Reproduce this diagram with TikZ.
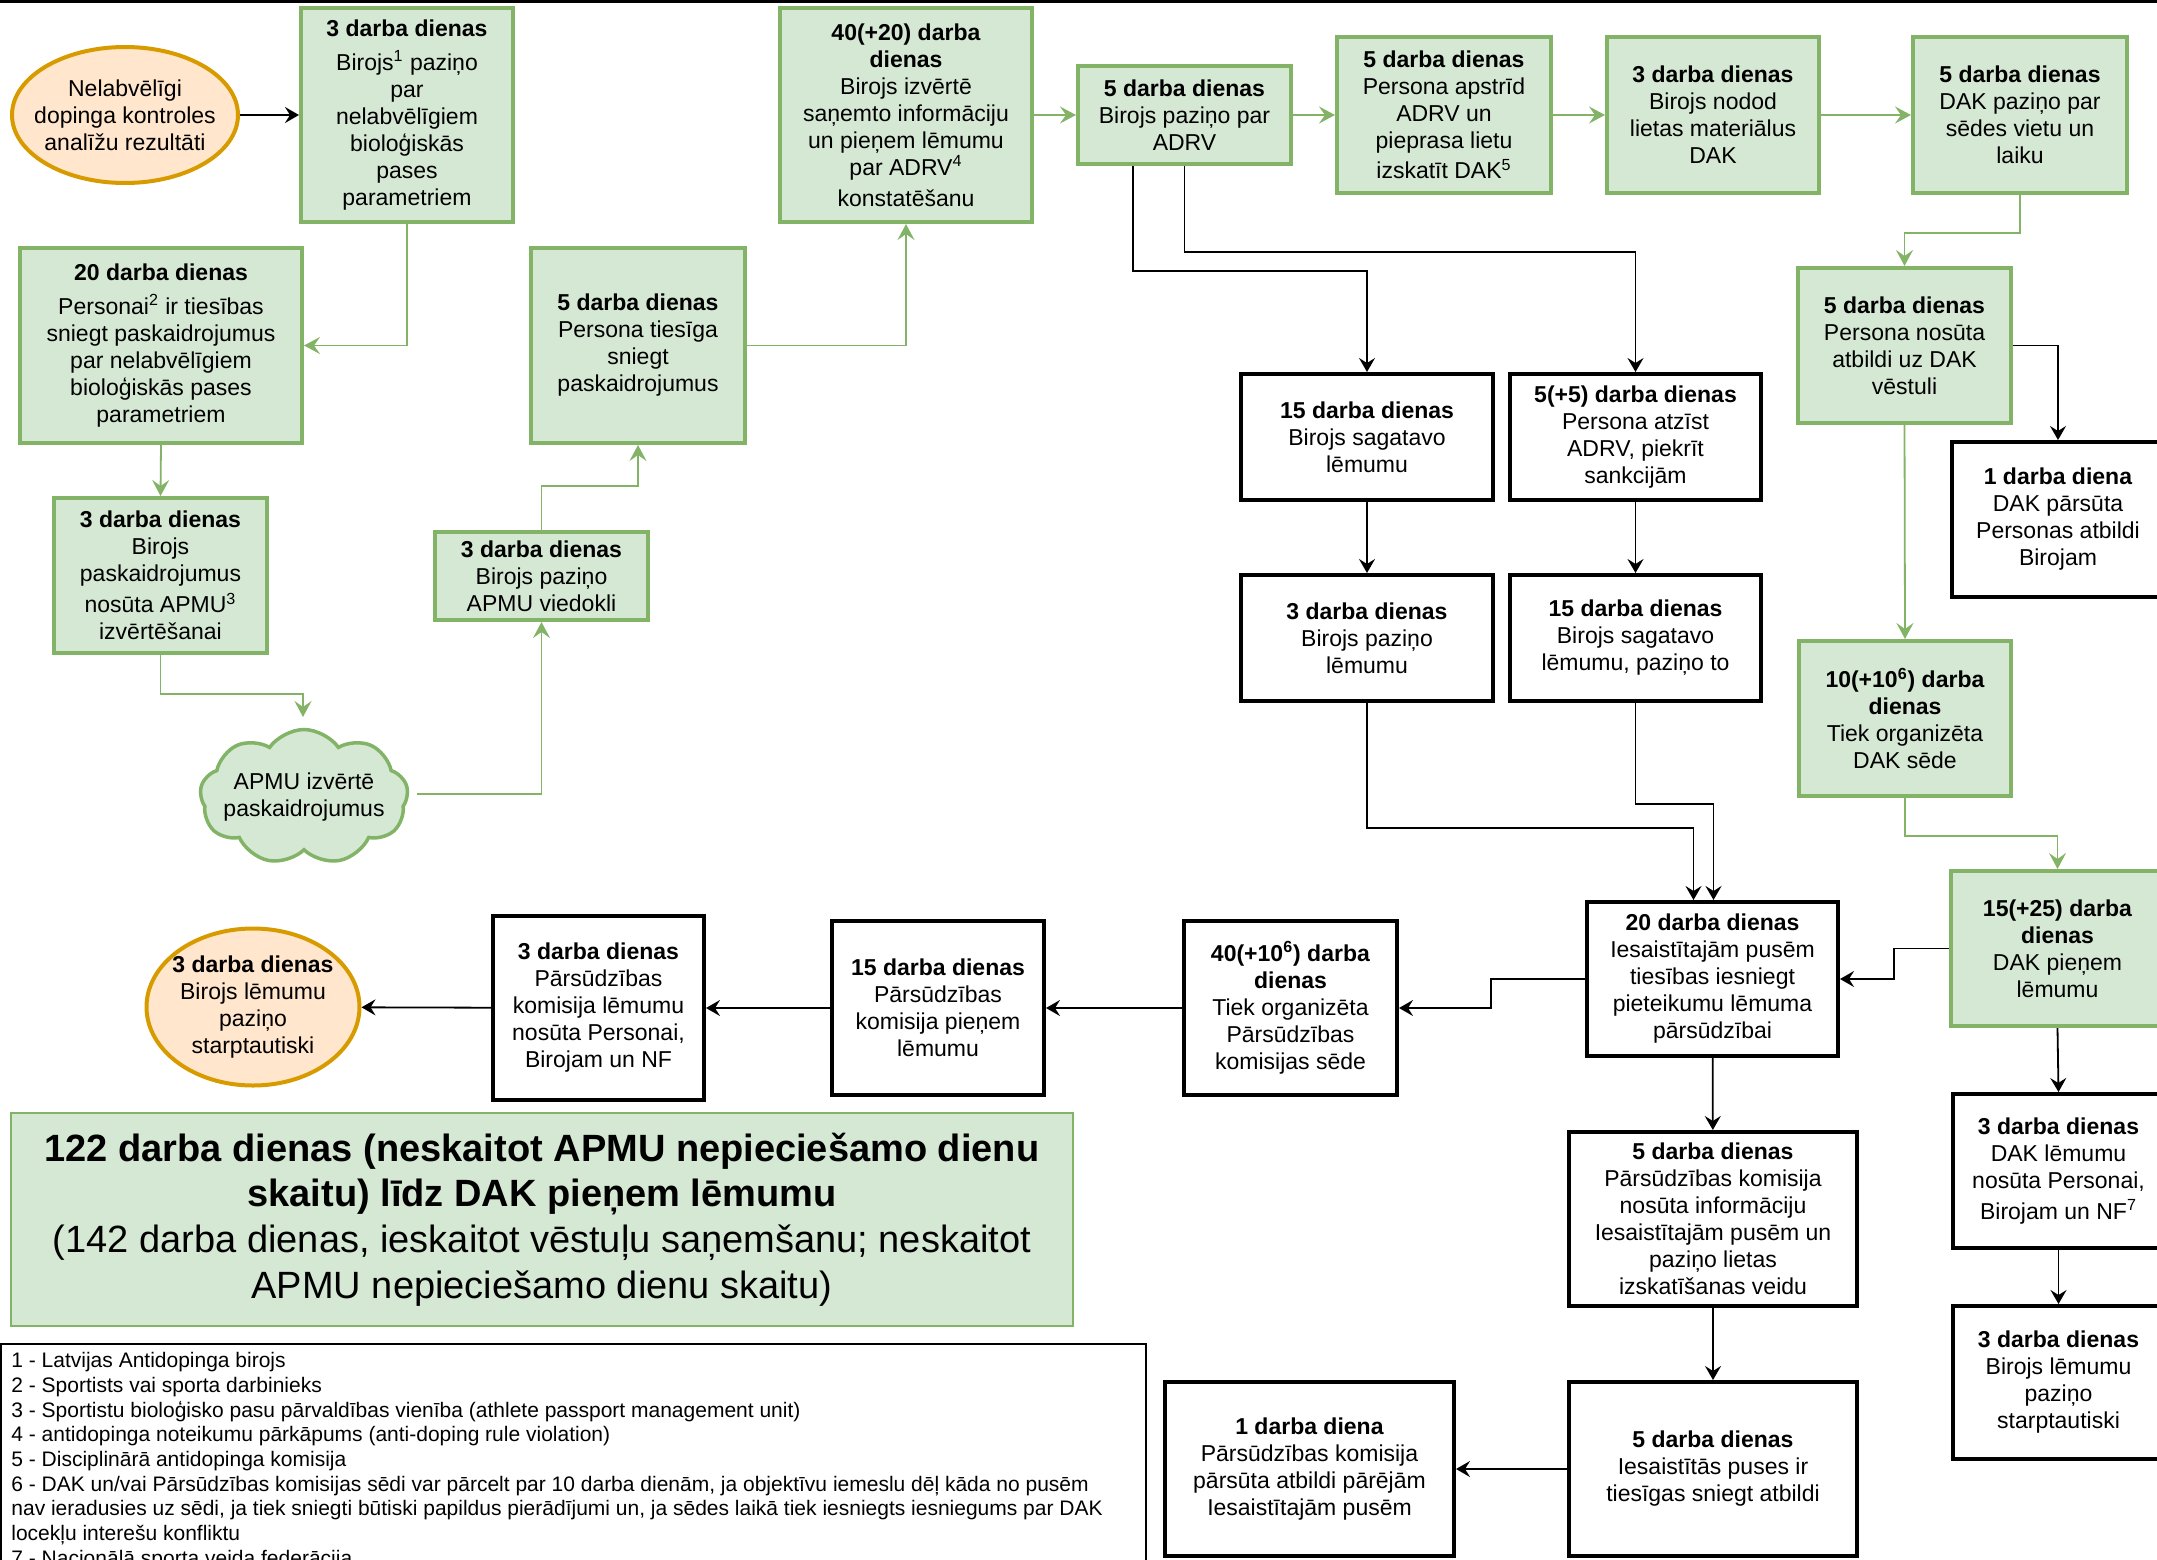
\documentclass[tikz,border=0pt]{standalone}
\usepackage{fontspec}
\setmainfont{Liberation Sans}
\usetikzlibrary{arrows.meta,shapes.geometric,shapes.symbols,calc}
\definecolor{gfill}{HTML}{D5E8D4}
\definecolor{gline}{HTML}{82B366}
\definecolor{ofill}{HTML}{FFE6CC}
\definecolor{oline}{HTML}{D79B00}
\tikzset{
 px/.style 2 args={minimum width=#1*0.5pt, minimum height=#2*0.5pt},
 base/.style={align=center, inner sep=1pt, font=\fontsize{11.5pt}{13.5pt}\selectfont},
 gbox/.style={base, rectangle, draw=gline, fill=gfill, line width=2pt},
 kbox/.style={base, rectangle, draw=black, fill=white, line width=2pt},
 obell/.style={base, ellipse, draw=oline, fill=ofill, line width=2pt},
 gcloud/.style={cloud, cloud puffs=9, cloud puff arc=110, cloud ignores aspect, inner sep=0pt, draw=gline, fill=gfill, line width=1.75pt},
 plain/.style={base, inner sep=0pt},
 garr/.style={draw=gline, line width=0.9pt, -{Stealth[length=8pt,width=8.5pt,inset=3pt]}},
 karr/.style={draw=black, line width=0.9pt, -{Stealth[length=7pt,width=8pt,inset=2.5pt]}},
}
\begin{document}
\begin{tikzpicture}[x=0.5pt,y=-0.5pt]
\useasboundingbox (0,0) rectangle (2157,1559);
\clip (0,0) rectangle (2157,1559);
\fill[black] (0,0) rectangle (2157,3);

% top row
\node[obell, inner xsep=-6pt, px={226}{136}] (ell1) at (125,115) {Nelabvēlīgi\\dopinga kontroles\\analīžu rezultāti};
\node[gbox, px={212}{214}] (b1) at (407,115) {\textbf{3 darba dienas}\\[3.5pt]Birojs\textsuperscript{1} paziņo\\par\\nelabvēlīgiem\\bioloģiskās\\pases\\parametriem};
\node[gbox, px={252}{214}] (b40) at (906,115) {\textbf{40(+20) darba}\\\textbf{dienas}\\Birojs izvērtē\\saņemto informāciju\\un pieņem lēmumu\\par ADRV\textsuperscript{4}\\[2pt]konstatēšanu};
\node[gbox, px={213}{98}] (bADRV) at (1184.5,115) {\textbf{5 darba dienas}\\Birojs paziņo par\\ADRV};
\node[gbox, px={214}{156}] (bApstrid) at (1444,115) {\textbf{5 darba dienas}\\Persona apstrīd\\ADRV un\\pieprasa lietu\\[1.5pt]izskatīt DAK\textsuperscript{5}};
\node[gbox, px={212}{156}] (bNodod) at (1713,115) {\textbf{3 darba dienas}\\Birojs nodod\\lietas materiālus\\DAK};
\node[gbox, px={214}{156}] (bSedes) at (2020,115) {\textbf{5 darba dienas}\\DAK paziņo par\\sēdes vietu un\\laiku};

% left column
\node[gbox, px={282}{195}] (b20) at (161,345.5) {\textbf{20 darba dienas}\\[3.5pt]Personai\textsuperscript{2} ir tiesības\\sniegt paskaidrojumus\\par nelabvēlīgiem\\bioloģiskās pases\\parametriem};
\node[gbox, px={214}{195}] (bTiesiga) at (638,345.5) {\textbf{5 darba dienas}\\Persona tiesīga\\sniegt\\paskaidrojumus};
\node[gbox, px={213}{155}] (bPask) at (160.5,575.5) {\textbf{3 darba dienas}\\Birojs\\paskaidrojumus\\[2pt]nosūta APMU\textsuperscript{3}\\izvērtēšanai};
\node[gbox, px={213}{88}] (bViedokli) at (541.5,576) {\textbf{3 darba dienas}\\Birojs paziņo\\APMU viedokli};
\node[gcloud, px={208}{135}] (cloud) at (304,797) {};
\node[plain] (cloudtext) at (304,797) {APMU izvērtē\\paskaidrojumus};
\coordinate (cloudtop) at (303,717);
\coordinate (cloudR) at (417,794);

% middle black boxes
\node[kbox, px={252}{126}] (b15a) at (1367,437) {\textbf{15 darba dienas}\\Birojs sagatavo\\lēmumu};
\node[kbox, px={251}{126}] (b55) at (1635.5,437) {\textbf{5(+5) darba dienas}\\Persona atzīst\\ADRV, piekrīt\\sankcijām};
\node[kbox, px={252}{126}] (b3a) at (1367,638) {\textbf{3 darba dienas}\\Birojs paziņo\\lēmumu};
\node[kbox, px={251}{126}] (b15b) at (1635.5,638) {\textbf{15 darba dienas}\\Birojs sagatavo\\lēmumu, paziņo to};

% right column
\node[gbox, px={213}{155}] (bNosuta) at (1904.5,345.5) {\textbf{5 darba dienas}\\Persona nosūta\\atbildi uz DAK\\vēstuli};
\node[kbox, px={212}{155}] (b1diena) at (2058,519.5) {\textbf{1 darba diena}\\DAK pārsūta\\Personas atbildi\\Birojam};
\node[gbox, px={212}{155}] (b10) at (1905,718.5) {\textbf{10(+10\textsuperscript{6}) darba}\\\textbf{dienas}\\Tiek organizēta\\DAK sēde};
\node[gbox, px={213}{155}] (b1525) at (2057.5,948.5) {\textbf{15(+25) darba}\\\textbf{dienas}\\DAK pieņem\\lēmumu};
\node[kbox, px={211}{154}] (b3d) at (2058.5,1171) {\textbf{3 darba dienas}\\DAK lēmumu\\nosūta Personai,\\[2pt]Birojam un NF\textsuperscript{7}};
\node[kbox, px={211}{153}] (b3e) at (2058.5,1382.5) {\textbf{3 darba dienas}\\Birojs lēmumu\\paziņo\\starptautiski};

% appeal row
\node[kbox, px={251}{154}] (b20b) at (1712.5,979) {\textbf{20 darba dienas}\\Iesaistītajām pusēm\\tiesības iesniegt\\pieteikumu lēmuma\\pārsūdzībai};
\node[kbox, px={213}{174}] (b40b) at (1290.5,1008) {\textbf{40(+10\textsuperscript{6}) darba}\\\textbf{dienas}\\Tiek organizēta\\Pārsūdzības\\komisijas sēde};
\node[kbox, px={212}{174}] (b15c) at (938,1008) {\textbf{15 darba dienas}\\Pārsūdzības\\komisija pieņem\\lēmumu};
\node[kbox, px={211}{184}] (b3c) at (598.5,1008) {\textbf{3 darba dienas}\\Pārsūdzības\\komisija lēmumu\\nosūta Personai,\\Birojam un NF};
\node[obell, inner xsep=-3pt, px={213}{157}] (ell2) at (253,1007) {\textbf{3 darba dienas}\\Birojs lēmumu\\paziņo\\starptautiski};
\node[kbox, px={288}{174}] (b5c) at (1713,1219) {\textbf{5 darba dienas}\\Pārsūdzības komisija\\nosūta informāciju\\Iesaistītajām pusēm un\\paziņo lietas\\izskatīšanas veidu};
\node[kbox, px={288}{174}] (b5d) at (1713,1469) {\textbf{5 darba dienas}\\Iesaistītās puses ir\\tiesīgas sniegt atbildi};
\node[kbox, px={289}{174}] (b1c) at (1309.5,1469) {\textbf{1 darba diena}\\Pārsūdzības komisija\\pārsūta atbildi pārējām\\Iesaistītajām pusēm};

% summary
\node[gbox, line width=1pt, px={1062}{213}, font=\fontsize{19pt}{22.8pt}\selectfont] (summary) at (542,1219.5) {\textbf{122 darba dienas (neskaitot APMU nepieciešamo dienu}\\\textbf{skaitu) līdz DAK pieņem lēmumu}\\(142 darba dienas, ieskaitot vēstuļu saņemšanu; neskaitot\\APMU nepieciešamo dienu skaitu)};

% footnotes
\draw[line width=1pt] (1,1344) rectangle (1146,1640);
\node[anchor=north west, inner sep=0pt, align=left, font=\fontsize{10.5pt}{12.35pt}\selectfont] (notes) at (11,1352) {1 - Latvijas Antidopinga birojs\\
2 - Sportists vai sporta darbinieks\\
3 - Sportistu bioloģisko pasu pārvaldības vienība (athlete passport management unit)\\
4 - antidopinga noteikumu pārkāpums (anti-doping rule violation)\\
5 - Disciplinārā antidopinga komisija\\
6 - DAK un/vai Pārsūdzības komisijas sēdi var pārcelt par 10 darba dienām, ja objektīvu iemeslu dēļ kāda no pusēm\\
nav ieradusies uz sēdi, ja tiek sniegti būtiski papildus pierādījumi un, ja sēdes laikā tiek iesniegts iesniegums par DAK\\
locekļu interešu konfliktu\\
7 - Nacionālā sporta veida federācija};

% connectors
\draw[karr] (ell1) -- (b1);
\draw[garr] (b1.south) |- (b20.east);
\draw[garr] (b20.south) -- (bPask.north);
\draw[garr] (bPask.south) -- ++(0,39) -| (cloudtop);
\draw[garr] (cloudR) -| (bViedokli.south);
\draw[garr] (bViedokli.north) -- ++(0,-44) -| (bTiesiga.south);
\draw[garr] (bTiesiga.east) -| (b40.south);
\draw[garr] (b40) -- (bADRV);
\draw[garr] (bADRV) -- (bApstrid);
\draw[garr] (bApstrid) -- (bNodod);
\draw[garr] (bNodod) -- (bSedes);
\draw[garr] (bSedes.south) -- ++(0,38) -| (bNosuta.north);
\draw[karr] (bNosuta.east) -| (b1diena.north);
\draw[garr] (bNosuta.south) -- (b10.north);
\draw[garr] (b10.south) -- ++(0,38) -| (b1525.north);
\draw[karr] (b1525.west) -- ++(-55,0) |- (b20b.east);
\draw[karr] (b1525.south) -- (b3d.north);
\draw[karr] (b3d.south) -- (b3e.north);
\draw[karr] ([xshift=-25.75pt]bADRV.south) -- ++(0,105) -| (b15a.north);
\draw[karr] (bADRV.south) -- ++(0,86) -| (b55.north);
\draw[karr] (b15a) -- (b3a);
\draw[karr] (b55) -- (b15b);
\draw[karr] (b3a.south) -- ++(0,125) -| ([xshift=-9.5pt]b20b.north);
\draw[karr] (b15b.south) -- ++(0,101) -| ([xshift=0.5pt]b20b.north);
\draw[karr] (b20b.west) -- ++(-94,0) |- (b40b.east);
\draw[karr] (b40b) -- (b15c);
\draw[karr] (b15c) -- (b3c);
\draw[karr] (b3c) -- (ell2);
\draw[karr] (b20b) -- (b5c);
\draw[karr] (b5c) -- (b5d);
\draw[karr] (b5d) -- (b1c);
\end{tikzpicture}
\end{document}
